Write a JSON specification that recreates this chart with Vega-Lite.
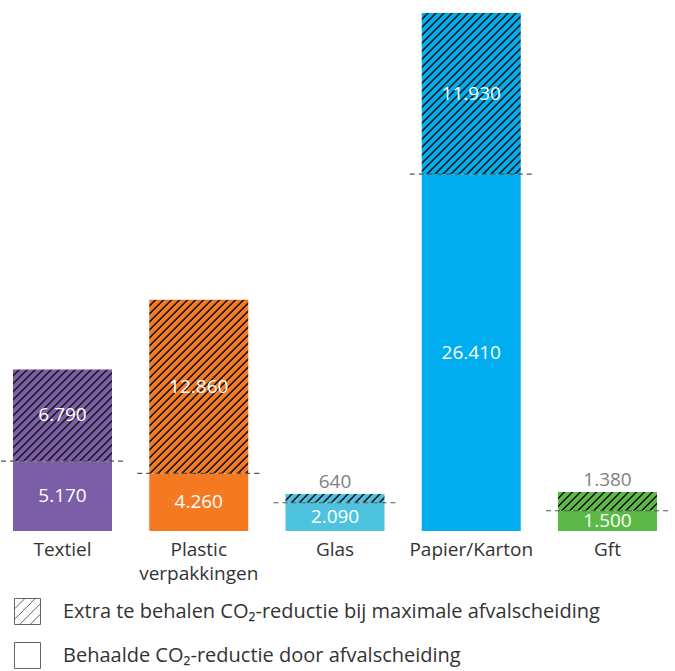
{
"$schema": "https://vega.github.io/schema/vega-lite/v6.json",
"width": 670, "height": 531,
"autosize": {"type": "none"},
"padding": {"left": 0, "top": 0, "right": 5, "bottom": 140},
"config": {"view": {"stroke": null}, "font": "Open Sans",
  "locale": {"number": {"decimal": ",", "thousands": ".", "grouping": [3], "currency": ["€", ""]}}},
"data": {"values": [
  {"cat": "Textiel", "type": "Behaald", "value": 5170},
  {"cat": "Textiel", "type": "Extra", "value": 6790},
  {"cat": "Plastic verpakkingen", "type": "Behaald", "value": 4260},
  {"cat": "Plastic verpakkingen", "type": "Extra", "value": 12860},
  {"cat": "Glas", "type": "Behaald", "value": 2090},
  {"cat": "Glas", "type": "Extra", "value": 640},
  {"cat": "Papier/Karton", "type": "Behaald", "value": 26410},
  {"cat": "Papier/Karton", "type": "Extra", "value": 11930},
  {"cat": "Gft", "type": "Behaald", "value": 1500},
  {"cat": "Gft", "type": "Extra", "value": 1380}
]},
"transform": [{"stack": "value", "groupby": ["cat"], "sort": [{"field": "type", "order": "ascending"}], "as": ["v0", "v1"]}],
"encoding": {
  "x": {"field": "cat", "type": "nominal", "sort": null,
    "scale": {"domain": ["Textiel", "Plastic verpakkingen", "Glas", "Papier/Karton", "Gft"], "paddingInner": 0.2734, "paddingOuter": 0.0954},
    "axis": {"title": null, "domain": false, "ticks": false, "grid": false, "labelAngle": 0, "labelFont": "Open Sans", "labelFontSize": 19, "labelColor": "#333333", "labelPadding": 9, "labelLineHeight": 24, "labelLimit": 300,
      "labelExpr": "datum.value === 'Plastic verpakkingen' ? ['Plastic', 'verpakkingen'] : datum.value"}}
},
"layer": [
  {
    "transform": [{"filter": "datum.type === 'Behaald'"}],
    "mark": {"type": "bar"},
    "encoding": {
      "y": {"field": "v0", "type": "quantitative", "scale": {"domain": [0, 39300], "nice": false}, "axis": null},
      "y2": {"field": "v1"},
      "color": {"field": "cat", "type": "nominal", "legend": null,
        "scale": {"domain": ["Textiel", "Plastic verpakkingen", "Glas", "Papier/Karton", "Gft"], "range": ["#7B5EA7", "#F47920", "#4DC3E0", "#00AEEF", "#5BB947"]}}
    }
  },
  {
    "transform": [{"filter": "datum.type === 'Extra'"}],
    "mark": {"type": "bar"},
    "encoding": {
      "y": {"field": "v0", "type": "quantitative", "scale": {"domain": [0, 39300], "nice": false}, "axis": null},
      "y2": {"field": "v1"},
      "fill": {"condition": [
        {"test": "datum.cat === 'Textiel'", "value": {"gradient": "linear", "x1": 0, "y1": 0, "x2": 1.739, "y2": 1.6115, "stops": [
{"offset":0,"color":"#7B5EA7"},
{"offset":0.015,"color":"#7B5EA7"},{"offset":0.018,"color":"#1a1a1a"},{"offset":0.022,"color":"#1a1a1a"},{"offset":0.025,"color":"#7B5EA7"},
{"offset":0.04,"color":"#7B5EA7"},{"offset":0.043,"color":"#1a1a1a"},{"offset":0.047,"color":"#1a1a1a"},{"offset":0.05,"color":"#7B5EA7"},
{"offset":0.065,"color":"#7B5EA7"},{"offset":0.068,"color":"#1a1a1a"},{"offset":0.072,"color":"#1a1a1a"},{"offset":0.075,"color":"#7B5EA7"},
{"offset":0.09,"color":"#7B5EA7"},{"offset":0.093,"color":"#1a1a1a"},{"offset":0.097,"color":"#1a1a1a"},{"offset":0.1,"color":"#7B5EA7"},
{"offset":0.115,"color":"#7B5EA7"},{"offset":0.118,"color":"#1a1a1a"},{"offset":0.122,"color":"#1a1a1a"},{"offset":0.125,"color":"#7B5EA7"},
{"offset":0.14,"color":"#7B5EA7"},{"offset":0.143,"color":"#1a1a1a"},{"offset":0.147,"color":"#1a1a1a"},{"offset":0.15,"color":"#7B5EA7"},
{"offset":0.165,"color":"#7B5EA7"},{"offset":0.168,"color":"#1a1a1a"},{"offset":0.172,"color":"#1a1a1a"},{"offset":0.175,"color":"#7B5EA7"},
{"offset":0.19,"color":"#7B5EA7"},{"offset":0.193,"color":"#1a1a1a"},{"offset":0.197,"color":"#1a1a1a"},{"offset":0.2,"color":"#7B5EA7"},
{"offset":0.215,"color":"#7B5EA7"},{"offset":0.218,"color":"#1a1a1a"},{"offset":0.222,"color":"#1a1a1a"},{"offset":0.225,"color":"#7B5EA7"},
{"offset":0.24,"color":"#7B5EA7"},{"offset":0.243,"color":"#1a1a1a"},{"offset":0.247,"color":"#1a1a1a"},{"offset":0.25,"color":"#7B5EA7"},
{"offset":0.265,"color":"#7B5EA7"},{"offset":0.268,"color":"#1a1a1a"},{"offset":0.272,"color":"#1a1a1a"},{"offset":0.275,"color":"#7B5EA7"},
{"offset":0.29,"color":"#7B5EA7"},{"offset":0.293,"color":"#1a1a1a"},{"offset":0.297,"color":"#1a1a1a"},{"offset":0.3,"color":"#7B5EA7"},
{"offset":0.315,"color":"#7B5EA7"},{"offset":0.318,"color":"#1a1a1a"},{"offset":0.322,"color":"#1a1a1a"},{"offset":0.325,"color":"#7B5EA7"},
{"offset":0.34,"color":"#7B5EA7"},{"offset":0.343,"color":"#1a1a1a"},{"offset":0.347,"color":"#1a1a1a"},{"offset":0.35,"color":"#7B5EA7"},
{"offset":0.365,"color":"#7B5EA7"},{"offset":0.368,"color":"#1a1a1a"},{"offset":0.372,"color":"#1a1a1a"},{"offset":0.375,"color":"#7B5EA7"},
{"offset":0.39,"color":"#7B5EA7"},{"offset":0.393,"color":"#1a1a1a"},{"offset":0.397,"color":"#1a1a1a"},{"offset":0.4,"color":"#7B5EA7"},
{"offset":0.415,"color":"#7B5EA7"},{"offset":0.418,"color":"#1a1a1a"},{"offset":0.422,"color":"#1a1a1a"},{"offset":0.425,"color":"#7B5EA7"},
{"offset":0.44,"color":"#7B5EA7"},{"offset":0.443,"color":"#1a1a1a"},{"offset":0.447,"color":"#1a1a1a"},{"offset":0.45,"color":"#7B5EA7"},
{"offset":0.465,"color":"#7B5EA7"},{"offset":0.468,"color":"#1a1a1a"},{"offset":0.472,"color":"#1a1a1a"},{"offset":0.475,"color":"#7B5EA7"},
{"offset":0.49,"color":"#7B5EA7"},{"offset":0.493,"color":"#1a1a1a"},{"offset":0.497,"color":"#1a1a1a"},{"offset":0.5,"color":"#7B5EA7"},
{"offset":0.515,"color":"#7B5EA7"},{"offset":0.518,"color":"#1a1a1a"},{"offset":0.522,"color":"#1a1a1a"},{"offset":0.525,"color":"#7B5EA7"},
{"offset":0.54,"color":"#7B5EA7"},{"offset":0.543,"color":"#1a1a1a"},{"offset":0.547,"color":"#1a1a1a"},{"offset":0.55,"color":"#7B5EA7"},
{"offset":0.565,"color":"#7B5EA7"},{"offset":0.568,"color":"#1a1a1a"},{"offset":0.572,"color":"#1a1a1a"},{"offset":0.575,"color":"#7B5EA7"},
{"offset":0.59,"color":"#7B5EA7"},{"offset":0.593,"color":"#1a1a1a"},{"offset":0.597,"color":"#1a1a1a"},{"offset":0.6,"color":"#7B5EA7"}
        ]}},
        {"test": "datum.cat === 'Plastic verpakkingen'", "value": {"gradient": "linear", "x1": 0, "y1": 0, "x2": 0.7921, "y2": 1.3903, "stops": [
{"offset":0,"color":"#F47920"},
{"offset":0.015,"color":"#F47920"},{"offset":0.018,"color":"#1a1a1a"},{"offset":0.022,"color":"#1a1a1a"},{"offset":0.025,"color":"#F47920"},
{"offset":0.04,"color":"#F47920"},{"offset":0.043,"color":"#1a1a1a"},{"offset":0.047,"color":"#1a1a1a"},{"offset":0.05,"color":"#F47920"},
{"offset":0.065,"color":"#F47920"},{"offset":0.068,"color":"#1a1a1a"},{"offset":0.072,"color":"#1a1a1a"},{"offset":0.075,"color":"#F47920"},
{"offset":0.09,"color":"#F47920"},{"offset":0.093,"color":"#1a1a1a"},{"offset":0.097,"color":"#1a1a1a"},{"offset":0.1,"color":"#F47920"},
{"offset":0.115,"color":"#F47920"},{"offset":0.118,"color":"#1a1a1a"},{"offset":0.122,"color":"#1a1a1a"},{"offset":0.125,"color":"#F47920"},
{"offset":0.14,"color":"#F47920"},{"offset":0.143,"color":"#1a1a1a"},{"offset":0.147,"color":"#1a1a1a"},{"offset":0.15,"color":"#F47920"},
{"offset":0.165,"color":"#F47920"},{"offset":0.168,"color":"#1a1a1a"},{"offset":0.172,"color":"#1a1a1a"},{"offset":0.175,"color":"#F47920"},
{"offset":0.19,"color":"#F47920"},{"offset":0.193,"color":"#1a1a1a"},{"offset":0.197,"color":"#1a1a1a"},{"offset":0.2,"color":"#F47920"},
{"offset":0.215,"color":"#F47920"},{"offset":0.218,"color":"#1a1a1a"},{"offset":0.222,"color":"#1a1a1a"},{"offset":0.225,"color":"#F47920"},
{"offset":0.24,"color":"#F47920"},{"offset":0.243,"color":"#1a1a1a"},{"offset":0.247,"color":"#1a1a1a"},{"offset":0.25,"color":"#F47920"},
{"offset":0.265,"color":"#F47920"},{"offset":0.268,"color":"#1a1a1a"},{"offset":0.272,"color":"#1a1a1a"},{"offset":0.275,"color":"#F47920"},
{"offset":0.29,"color":"#F47920"},{"offset":0.293,"color":"#1a1a1a"},{"offset":0.297,"color":"#1a1a1a"},{"offset":0.3,"color":"#F47920"},
{"offset":0.315,"color":"#F47920"},{"offset":0.318,"color":"#1a1a1a"},{"offset":0.322,"color":"#1a1a1a"},{"offset":0.325,"color":"#F47920"},
{"offset":0.34,"color":"#F47920"},{"offset":0.343,"color":"#1a1a1a"},{"offset":0.347,"color":"#1a1a1a"},{"offset":0.35,"color":"#F47920"},
{"offset":0.365,"color":"#F47920"},{"offset":0.368,"color":"#1a1a1a"},{"offset":0.372,"color":"#1a1a1a"},{"offset":0.375,"color":"#F47920"},
{"offset":0.39,"color":"#F47920"},{"offset":0.393,"color":"#1a1a1a"},{"offset":0.397,"color":"#1a1a1a"},{"offset":0.4,"color":"#F47920"},
{"offset":0.415,"color":"#F47920"},{"offset":0.418,"color":"#1a1a1a"},{"offset":0.422,"color":"#1a1a1a"},{"offset":0.425,"color":"#F47920"},
{"offset":0.44,"color":"#F47920"},{"offset":0.443,"color":"#1a1a1a"},{"offset":0.447,"color":"#1a1a1a"},{"offset":0.45,"color":"#F47920"},
{"offset":0.465,"color":"#F47920"},{"offset":0.468,"color":"#1a1a1a"},{"offset":0.472,"color":"#1a1a1a"},{"offset":0.475,"color":"#F47920"},
{"offset":0.49,"color":"#F47920"},{"offset":0.493,"color":"#1a1a1a"},{"offset":0.497,"color":"#1a1a1a"},{"offset":0.5,"color":"#F47920"},
{"offset":0.515,"color":"#F47920"},{"offset":0.518,"color":"#1a1a1a"},{"offset":0.522,"color":"#1a1a1a"},{"offset":0.525,"color":"#F47920"},
{"offset":0.54,"color":"#F47920"},{"offset":0.543,"color":"#1a1a1a"},{"offset":0.547,"color":"#1a1a1a"},{"offset":0.55,"color":"#F47920"},
{"offset":0.565,"color":"#F47920"},{"offset":0.568,"color":"#1a1a1a"},{"offset":0.572,"color":"#1a1a1a"},{"offset":0.575,"color":"#F47920"},
{"offset":0.59,"color":"#F47920"},{"offset":0.593,"color":"#1a1a1a"},{"offset":0.597,"color":"#1a1a1a"},{"offset":0.6,"color":"#F47920"},
{"offset":0.615,"color":"#F47920"},{"offset":0.618,"color":"#1a1a1a"},{"offset":0.622,"color":"#1a1a1a"},{"offset":0.625,"color":"#F47920"},
{"offset":0.64,"color":"#F47920"},{"offset":0.643,"color":"#1a1a1a"},{"offset":0.647,"color":"#1a1a1a"},{"offset":0.65,"color":"#F47920"},
{"offset":0.665,"color":"#F47920"},{"offset":0.668,"color":"#1a1a1a"},{"offset":0.672,"color":"#1a1a1a"},{"offset":0.675,"color":"#F47920"},
{"offset":0.69,"color":"#F47920"},{"offset":0.693,"color":"#1a1a1a"},{"offset":0.697,"color":"#1a1a1a"},{"offset":0.7,"color":"#F47920"},
{"offset":0.715,"color":"#F47920"},{"offset":0.718,"color":"#1a1a1a"},{"offset":0.722,"color":"#1a1a1a"},{"offset":0.725,"color":"#F47920"},
{"offset":0.74,"color":"#F47920"},{"offset":0.743,"color":"#1a1a1a"},{"offset":0.747,"color":"#1a1a1a"},{"offset":0.75,"color":"#F47920"},
{"offset":0.765,"color":"#F47920"},{"offset":0.768,"color":"#1a1a1a"},{"offset":0.772,"color":"#1a1a1a"},{"offset":0.775,"color":"#F47920"},
{"offset":0.79,"color":"#F47920"},{"offset":0.793,"color":"#1a1a1a"},{"offset":0.797,"color":"#1a1a1a"},{"offset":0.8,"color":"#F47920"},
{"offset":0.815,"color":"#F47920"},{"offset":0.818,"color":"#1a1a1a"},{"offset":0.822,"color":"#1a1a1a"},{"offset":0.825,"color":"#F47920"},
{"offset":0.84,"color":"#F47920"},{"offset":0.843,"color":"#1a1a1a"},{"offset":0.847,"color":"#1a1a1a"},{"offset":0.85,"color":"#F47920"},
{"offset":0.865,"color":"#F47920"},{"offset":0.868,"color":"#1a1a1a"},{"offset":0.872,"color":"#1a1a1a"},{"offset":0.875,"color":"#F47920"}
        ]}},
        {"test": "datum.cat === 'Glas'", "value": {"gradient": "linear", "x1": 0, "y1": 0, "x2": 3.2079, "y2": 0.2802, "stops": [
{"offset":0,"color":"#4DC3E0"},
{"offset":0.015,"color":"#4DC3E0"},{"offset":0.018,"color":"#1a1a1a"},{"offset":0.022,"color":"#1a1a1a"},{"offset":0.025,"color":"#4DC3E0"},
{"offset":0.04,"color":"#4DC3E0"},{"offset":0.043,"color":"#1a1a1a"},{"offset":0.047,"color":"#1a1a1a"},{"offset":0.05,"color":"#4DC3E0"},
{"offset":0.065,"color":"#4DC3E0"},{"offset":0.068,"color":"#1a1a1a"},{"offset":0.072,"color":"#1a1a1a"},{"offset":0.075,"color":"#4DC3E0"},
{"offset":0.09,"color":"#4DC3E0"},{"offset":0.093,"color":"#1a1a1a"},{"offset":0.097,"color":"#1a1a1a"},{"offset":0.1,"color":"#4DC3E0"},
{"offset":0.115,"color":"#4DC3E0"},{"offset":0.118,"color":"#1a1a1a"},{"offset":0.122,"color":"#1a1a1a"},{"offset":0.125,"color":"#4DC3E0"},
{"offset":0.14,"color":"#4DC3E0"},{"offset":0.143,"color":"#1a1a1a"},{"offset":0.147,"color":"#1a1a1a"},{"offset":0.15,"color":"#4DC3E0"},
{"offset":0.165,"color":"#4DC3E0"},{"offset":0.168,"color":"#1a1a1a"},{"offset":0.172,"color":"#1a1a1a"},{"offset":0.175,"color":"#4DC3E0"},
{"offset":0.19,"color":"#4DC3E0"},{"offset":0.193,"color":"#1a1a1a"},{"offset":0.197,"color":"#1a1a1a"},{"offset":0.2,"color":"#4DC3E0"},
{"offset":0.215,"color":"#4DC3E0"},{"offset":0.218,"color":"#1a1a1a"},{"offset":0.222,"color":"#1a1a1a"},{"offset":0.225,"color":"#4DC3E0"},
{"offset":0.24,"color":"#4DC3E0"},{"offset":0.243,"color":"#1a1a1a"},{"offset":0.247,"color":"#1a1a1a"},{"offset":0.25,"color":"#4DC3E0"},
{"offset":0.265,"color":"#4DC3E0"},{"offset":0.268,"color":"#1a1a1a"},{"offset":0.272,"color":"#1a1a1a"},{"offset":0.275,"color":"#4DC3E0"},
{"offset":0.29,"color":"#4DC3E0"},{"offset":0.293,"color":"#1a1a1a"},{"offset":0.297,"color":"#1a1a1a"},{"offset":0.3,"color":"#4DC3E0"},
{"offset":0.315,"color":"#4DC3E0"},{"offset":0.318,"color":"#1a1a1a"},{"offset":0.322,"color":"#1a1a1a"},{"offset":0.325,"color":"#4DC3E0"},
{"offset":0.34,"color":"#4DC3E0"},{"offset":0.343,"color":"#1a1a1a"},{"offset":0.347,"color":"#1a1a1a"},{"offset":0.35,"color":"#4DC3E0"}
        ]}},
        {"test": "datum.cat === 'Papier/Karton'", "value": {"gradient": "linear", "x1": 0, "y1": 0, "x2": 0.8853, "y2": 1.4415, "stops": [
{"offset":0,"color":"#00AEEF"},
{"offset":0.015,"color":"#00AEEF"},{"offset":0.018,"color":"#1a1a1a"},{"offset":0.022,"color":"#1a1a1a"},{"offset":0.025,"color":"#00AEEF"},
{"offset":0.04,"color":"#00AEEF"},{"offset":0.043,"color":"#1a1a1a"},{"offset":0.047,"color":"#1a1a1a"},{"offset":0.05,"color":"#00AEEF"},
{"offset":0.065,"color":"#00AEEF"},{"offset":0.068,"color":"#1a1a1a"},{"offset":0.072,"color":"#1a1a1a"},{"offset":0.075,"color":"#00AEEF"},
{"offset":0.09,"color":"#00AEEF"},{"offset":0.093,"color":"#1a1a1a"},{"offset":0.097,"color":"#1a1a1a"},{"offset":0.1,"color":"#00AEEF"},
{"offset":0.115,"color":"#00AEEF"},{"offset":0.118,"color":"#1a1a1a"},{"offset":0.122,"color":"#1a1a1a"},{"offset":0.125,"color":"#00AEEF"},
{"offset":0.14,"color":"#00AEEF"},{"offset":0.143,"color":"#1a1a1a"},{"offset":0.147,"color":"#1a1a1a"},{"offset":0.15,"color":"#00AEEF"},
{"offset":0.165,"color":"#00AEEF"},{"offset":0.168,"color":"#1a1a1a"},{"offset":0.172,"color":"#1a1a1a"},{"offset":0.175,"color":"#00AEEF"},
{"offset":0.19,"color":"#00AEEF"},{"offset":0.193,"color":"#1a1a1a"},{"offset":0.197,"color":"#1a1a1a"},{"offset":0.2,"color":"#00AEEF"},
{"offset":0.215,"color":"#00AEEF"},{"offset":0.218,"color":"#1a1a1a"},{"offset":0.222,"color":"#1a1a1a"},{"offset":0.225,"color":"#00AEEF"},
{"offset":0.24,"color":"#00AEEF"},{"offset":0.243,"color":"#1a1a1a"},{"offset":0.247,"color":"#1a1a1a"},{"offset":0.25,"color":"#00AEEF"},
{"offset":0.265,"color":"#00AEEF"},{"offset":0.268,"color":"#1a1a1a"},{"offset":0.272,"color":"#1a1a1a"},{"offset":0.275,"color":"#00AEEF"},
{"offset":0.29,"color":"#00AEEF"},{"offset":0.293,"color":"#1a1a1a"},{"offset":0.297,"color":"#1a1a1a"},{"offset":0.3,"color":"#00AEEF"},
{"offset":0.315,"color":"#00AEEF"},{"offset":0.318,"color":"#1a1a1a"},{"offset":0.322,"color":"#1a1a1a"},{"offset":0.325,"color":"#00AEEF"},
{"offset":0.34,"color":"#00AEEF"},{"offset":0.343,"color":"#1a1a1a"},{"offset":0.347,"color":"#1a1a1a"},{"offset":0.35,"color":"#00AEEF"},
{"offset":0.365,"color":"#00AEEF"},{"offset":0.368,"color":"#1a1a1a"},{"offset":0.372,"color":"#1a1a1a"},{"offset":0.375,"color":"#00AEEF"},
{"offset":0.39,"color":"#00AEEF"},{"offset":0.393,"color":"#1a1a1a"},{"offset":0.397,"color":"#1a1a1a"},{"offset":0.4,"color":"#00AEEF"},
{"offset":0.415,"color":"#00AEEF"},{"offset":0.418,"color":"#1a1a1a"},{"offset":0.422,"color":"#1a1a1a"},{"offset":0.425,"color":"#00AEEF"},
{"offset":0.44,"color":"#00AEEF"},{"offset":0.443,"color":"#1a1a1a"},{"offset":0.447,"color":"#1a1a1a"},{"offset":0.45,"color":"#00AEEF"},
{"offset":0.465,"color":"#00AEEF"},{"offset":0.468,"color":"#1a1a1a"},{"offset":0.472,"color":"#1a1a1a"},{"offset":0.475,"color":"#00AEEF"},
{"offset":0.49,"color":"#00AEEF"},{"offset":0.493,"color":"#1a1a1a"},{"offset":0.497,"color":"#1a1a1a"},{"offset":0.5,"color":"#00AEEF"},
{"offset":0.515,"color":"#00AEEF"},{"offset":0.518,"color":"#1a1a1a"},{"offset":0.522,"color":"#1a1a1a"},{"offset":0.525,"color":"#00AEEF"},
{"offset":0.54,"color":"#00AEEF"},{"offset":0.543,"color":"#1a1a1a"},{"offset":0.547,"color":"#1a1a1a"},{"offset":0.55,"color":"#00AEEF"},
{"offset":0.565,"color":"#00AEEF"},{"offset":0.568,"color":"#1a1a1a"},{"offset":0.572,"color":"#1a1a1a"},{"offset":0.575,"color":"#00AEEF"},
{"offset":0.59,"color":"#00AEEF"},{"offset":0.593,"color":"#1a1a1a"},{"offset":0.597,"color":"#1a1a1a"},{"offset":0.6,"color":"#00AEEF"},
{"offset":0.615,"color":"#00AEEF"},{"offset":0.618,"color":"#1a1a1a"},{"offset":0.622,"color":"#1a1a1a"},{"offset":0.625,"color":"#00AEEF"},
{"offset":0.64,"color":"#00AEEF"},{"offset":0.643,"color":"#1a1a1a"},{"offset":0.647,"color":"#1a1a1a"},{"offset":0.65,"color":"#00AEEF"},
{"offset":0.665,"color":"#00AEEF"},{"offset":0.668,"color":"#1a1a1a"},{"offset":0.672,"color":"#1a1a1a"},{"offset":0.675,"color":"#00AEEF"},
{"offset":0.69,"color":"#00AEEF"},{"offset":0.693,"color":"#1a1a1a"},{"offset":0.697,"color":"#1a1a1a"},{"offset":0.7,"color":"#00AEEF"},
{"offset":0.715,"color":"#00AEEF"},{"offset":0.718,"color":"#1a1a1a"},{"offset":0.722,"color":"#1a1a1a"},{"offset":0.725,"color":"#00AEEF"},
{"offset":0.74,"color":"#00AEEF"},{"offset":0.743,"color":"#1a1a1a"},{"offset":0.747,"color":"#1a1a1a"},{"offset":0.75,"color":"#00AEEF"},
{"offset":0.765,"color":"#00AEEF"},{"offset":0.768,"color":"#1a1a1a"},{"offset":0.772,"color":"#1a1a1a"},{"offset":0.775,"color":"#00AEEF"},
{"offset":0.79,"color":"#00AEEF"},{"offset":0.793,"color":"#1a1a1a"},{"offset":0.797,"color":"#1a1a1a"},{"offset":0.8,"color":"#00AEEF"},
{"offset":0.815,"color":"#00AEEF"},{"offset":0.818,"color":"#1a1a1a"},{"offset":0.822,"color":"#1a1a1a"},{"offset":0.825,"color":"#00AEEF"}
        ]}}
      ],
      "value": {"gradient": "linear", "x1": 0, "y1": 0, "x2": 3.1216, "y2": 0.5881, "stops": [
{"offset":0,"color":"#5BB947"},
{"offset":0.015,"color":"#5BB947"},{"offset":0.018,"color":"#1a1a1a"},{"offset":0.022,"color":"#1a1a1a"},{"offset":0.025,"color":"#5BB947"},
{"offset":0.04,"color":"#5BB947"},{"offset":0.043,"color":"#1a1a1a"},{"offset":0.047,"color":"#1a1a1a"},{"offset":0.05,"color":"#5BB947"},
{"offset":0.065,"color":"#5BB947"},{"offset":0.068,"color":"#1a1a1a"},{"offset":0.072,"color":"#1a1a1a"},{"offset":0.075,"color":"#5BB947"},
{"offset":0.09,"color":"#5BB947"},{"offset":0.093,"color":"#1a1a1a"},{"offset":0.097,"color":"#1a1a1a"},{"offset":0.1,"color":"#5BB947"},
{"offset":0.115,"color":"#5BB947"},{"offset":0.118,"color":"#1a1a1a"},{"offset":0.122,"color":"#1a1a1a"},{"offset":0.125,"color":"#5BB947"},
{"offset":0.14,"color":"#5BB947"},{"offset":0.143,"color":"#1a1a1a"},{"offset":0.147,"color":"#1a1a1a"},{"offset":0.15,"color":"#5BB947"},
{"offset":0.165,"color":"#5BB947"},{"offset":0.168,"color":"#1a1a1a"},{"offset":0.172,"color":"#1a1a1a"},{"offset":0.175,"color":"#5BB947"},
{"offset":0.19,"color":"#5BB947"},{"offset":0.193,"color":"#1a1a1a"},{"offset":0.197,"color":"#1a1a1a"},{"offset":0.2,"color":"#5BB947"},
{"offset":0.215,"color":"#5BB947"},{"offset":0.218,"color":"#1a1a1a"},{"offset":0.222,"color":"#1a1a1a"},{"offset":0.225,"color":"#5BB947"},
{"offset":0.24,"color":"#5BB947"},{"offset":0.243,"color":"#1a1a1a"},{"offset":0.247,"color":"#1a1a1a"},{"offset":0.25,"color":"#5BB947"},
{"offset":0.265,"color":"#5BB947"},{"offset":0.268,"color":"#1a1a1a"},{"offset":0.272,"color":"#1a1a1a"},{"offset":0.275,"color":"#5BB947"},
{"offset":0.29,"color":"#5BB947"},{"offset":0.293,"color":"#1a1a1a"},{"offset":0.297,"color":"#1a1a1a"},{"offset":0.3,"color":"#5BB947"},
{"offset":0.315,"color":"#5BB947"},{"offset":0.318,"color":"#1a1a1a"},{"offset":0.322,"color":"#1a1a1a"},{"offset":0.325,"color":"#5BB947"},
{"offset":0.34,"color":"#5BB947"},{"offset":0.343,"color":"#1a1a1a"},{"offset":0.347,"color":"#1a1a1a"},{"offset":0.35,"color":"#5BB947"},
{"offset":0.365,"color":"#5BB947"},{"offset":0.368,"color":"#1a1a1a"},{"offset":0.372,"color":"#1a1a1a"},{"offset":0.375,"color":"#5BB947"}
      ]}}
    }
  },
  {
    "transform": [{"filter": "datum.type === 'Behaald'"}],
    "mark": {"type": "rule", "color": "#555555", "strokeWidth": 1.2, "strokeDash": [5, 4], "xOffset": -12, "x2Offset": 14},
    "encoding": {
      "x": {"field": "cat", "type": "nominal", "sort": null, "bandPosition": 0},
      "x2": {"field": "cat", "bandPosition": 1},
      "y": {"field": "v1", "type": "quantitative", "scale": {"domain": [0, 39300], "nice": false}, "axis": null}
    }
  },
  {
    "transform": [
      {"filter": "!(datum.type === 'Extra' && (datum.cat === 'Glas' || datum.cat === 'Gft'))"},
      {"fold": ["v0", "v1"], "as": ["edgeName", "edge"]},
      {"aggregate": [{"op": "mean", "field": "edge", "as": "mid"}, {"op": "max", "field": "value", "as": "val"}], "groupby": ["cat", "type"]}
    ],
    "mark": {"type": "text", "color": "#ffffff", "fontSize": 19, "font": "Open Sans", "baseline": "middle", "align": "center"},
    "encoding": {
      "y": {"field": "mid", "type": "quantitative", "scale": {"domain": [0, 39300], "nice": false}, "axis": null},
      "text": {"field": "val", "type": "quantitative", "format": ",d"}
    }
  },
  {
    "transform": [{"filter": "datum.type === 'Extra' && (datum.cat === 'Glas' || datum.cat === 'Gft')"}],
    "mark": {"type": "text", "color": "#808080", "fontSize": 19, "font": "Open Sans", "baseline": "alphabetic", "align": "center", "dy": -6},
    "encoding": {
      "y": {"field": "v1", "type": "quantitative", "scale": {"domain": [0, 39300], "nice": false}, "axis": null},
      "text": {"field": "value", "type": "quantitative", "format": ",d"}
    }
  },
  {
    "data": {"values": [
      {"lg": "Extra te behalen CO₂-reductie bij maximale afvalscheiding"},
      {"lg": "Behaalde CO₂-reductie door afvalscheiding"}
    ]},
    "transform": [{"filter": "false"}],
    "mark": {"type": "point", "filled": false, "color": "#222222", "strokeWidth": 1},
    "encoding": {
      "x": {"value": 0},
      "shape": {"field": "lg", "type": "nominal",
        "scale": {"domain": ["Extra te behalen CO₂-reductie bij maximale afvalscheiding", "Behaalde CO₂-reductie door afvalscheiding"],
          "range": ["M-1,-1H1V1H-1Z M-1,-0.2L-0.2,-1 M-1,0.6L0.6,-1 M-0.6,1L1,-0.6 M0.2,1L1,0.2", "M-1,-1H1V1H-1Z"]},
        "legend": {"title": null, "orient": "none", "legendX": 14, "legendY": 598, "padding": 0, "symbolSize": 676, "symbolStrokeWidth": 1, "symbolStrokeColor": "#222222", "symbolFillColor": "transparent",
          "labelFont": "Open Sans", "labelFontSize": 20, "labelColor": "#333333", "labelOffset": 22, "rowPadding": 13, "labelLimit": 700}}
    }
  }
]
}
